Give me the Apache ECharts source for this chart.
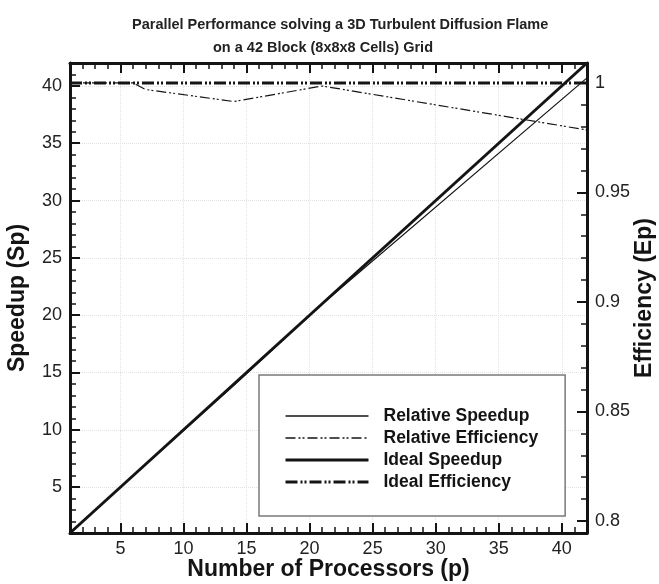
<!DOCTYPE html>
<html>
<head>
<meta charset="utf-8">
<script src="https://cdn.jsdelivr.net/npm/echarts@6/dist/echarts.min.js"></script>
<style>
  html, body { margin: 0; padding: 0; background: #fff; }
  #chart { width: 659px; height: 584px; }
</style>
</head>
<body>
<div id="chart"></div>
<script>
// data
var processors = [1, 2, 3, 6, 7, 14, 21, 42];
var relSpeedup = [1, 2, 3, 6, 6.98, 13.88, 20.97, 40.7];
var relEfficiency = [1, 1, 1, 1, 0.997, 0.9915, 0.9986, 0.9785];
var idealP = [1, 42];
var idealSpeedup = [1, 42];
var idealEfficiency = [1, 1];

// tick labels
var xTicks = [5, 10, 15, 20, 25, 30, 35, 40];
var speedupTicks = [5, 10, 15, 20, 25, 30, 35, 40];
var effTicks = [0.8, 0.85, 0.9, 0.95, 1];

var font = '"Liberation Sans", Arial, Helvetica, sans-serif';
var ink = '#141414';

function pairs(xs, ys) {
  return xs.map(function (x, i) { return [x, ys[i]]; });
}

// minor ticks every 1 (x, speedup) and every 0.01 (efficiency)
var minorInt = [];
for (var i = 2; i <= 41; i++) minorInt.push(i);
var minorEff = [];
for (var j = 80; j <= 100; j++) minorEff.push(j / 100);

var gridLine = { show: true, lineStyle: { color: '#e2e2e2', type: 'dotted', width: 1 } };
var labelStyle = { fontFamily: font, fontSize: 18, color: '#222', margin: 8 };
var nameStyle = { fontFamily: font, fontSize: 23, fontWeight: 'bold', color: ink };

function majorAxis(extra) {
  return Object.assign({
    type: 'value',
    nameMoveOverlap: false,
    axisLine: { show: true, onZero: false, lineStyle: { color: ink, width: 3 } },
    axisTick: { show: true, inside: true, length: 10, lineStyle: { color: ink, width: 2 } },
    axisLabel: { show: false },
    splitLine: { show: false },
    minorTick: { show: false }
  }, extra);
}
function minorAxis(extra) {
  return Object.assign({
    type: 'value',
    axisLine: { show: false, onZero: false },
    axisTick: { show: true, inside: true, length: 6, lineStyle: { color: ink, width: 1.5 } },
    axisLabel: { show: false },
    splitLine: { show: false }
  }, extra);
}

var DASHDOTDOT = [12, 3, 2, 2, 2, 3];
var DASHDOTDOT_THIN = [10, 3, 2, 2, 2, 3];

var myChart = echarts.init(document.getElementById('chart'));

var option = {
  backgroundColor: '#fff',
  animation: false,
  title: [
    {
      text: 'Parallel Performance solving a 3D Turbulent Diffusion Flame',
      left: 127, top: 12,
      textStyle: { fontFamily: font, fontSize: 14.5, fontWeight: 'bold', color: '#222' }
    },
    {
      text: 'on a 42 Block (8x8x8 Cells) Grid',
      left: 208, top: 35,
      textStyle: { fontFamily: font, fontSize: 14.5, fontWeight: 'bold', color: '#222' }
    }
  ],
  grid: { left: 70, right: 72, top: 63, bottom: 51, containLabel: false, outerBoundsMode: 'none' },
  legend: {
    orient: 'vertical',
    left: 259, top: 375,
    padding: [31, 27, 24, 25],
    backgroundColor: '#fff',
    borderColor: '#7a7a7a',
    borderWidth: 1.5,
    itemWidth: 83,
    itemHeight: 14,
    itemGap: 2,
    itemStyle: { opacity: 0 },
    textStyle: { fontFamily: font, fontSize: 17.5, lineHeight: 20, fontWeight: 'bold', color: ink, padding: [0, 0, 0, 10] },
    data: [
      { name: 'Relative Speedup', itemStyle: { opacity: 0 }, lineStyle: { width: 1.4, type: 'solid', color: ink } },
      { name: 'Relative Efficiency', itemStyle: { opacity: 0 }, lineStyle: { width: 1.4, type: DASHDOTDOT_THIN, color: ink } },
      { name: 'Ideal Speedup', itemStyle: { opacity: 0 }, lineStyle: { width: 3, type: 'solid', color: ink } },
      { name: 'Ideal Efficiency', itemStyle: { opacity: 0 }, lineStyle: { width: 3, type: DASHDOTDOT, color: ink } }
    ]
  },
  xAxis: [
    majorAxis({
      position: 'bottom', min: 1, max: 42,
      name: 'Number of Processors (p)', nameLocation: 'middle', nameGap: 25, nameTextStyle: nameStyle,
      axisTick: { show: true, inside: true, length: 10, customValues: xTicks, lineStyle: { color: ink, width: 2 } },
      axisLabel: Object.assign({ show: true, customValues: xTicks }, labelStyle, { margin: 7 }),
      splitLine: gridLine
    }),
    minorAxis({ position: 'bottom', min: 1, max: 42,
      axisTick: { show: true, inside: true, length: 6, customValues: minorInt, lineStyle: { color: ink, width: 1.5 } } }),
    majorAxis({ position: 'top', min: 1, max: 42,
      axisTick: { show: true, inside: true, length: 10, customValues: xTicks, lineStyle: { color: ink, width: 2 } } }),
    minorAxis({ position: 'top', min: 1, max: 42,
      axisTick: { show: true, inside: true, length: 6, customValues: minorInt, lineStyle: { color: ink, width: 1.5 } } })
  ],
  yAxis: [
    majorAxis({
      position: 'left', min: 1, max: 42,
      name: 'Speedup (Sp)', nameLocation: 'middle', nameGap: 41, nameRotate: 90, nameTextStyle: nameStyle,
      axisTick: { show: true, inside: true, length: 10, customValues: speedupTicks, lineStyle: { color: ink, width: 2 } },
      axisLabel: Object.assign({ show: true, customValues: speedupTicks }, labelStyle),
      splitLine: gridLine
    }),
    minorAxis({ position: 'left', min: 1, max: 42,
      axisTick: { show: true, inside: true, length: 6, customValues: minorInt, lineStyle: { color: ink, width: 1.5 } } }),
    majorAxis({
      position: 'right', min: 0.7945, max: 1.0091,
      name: 'Efficiency (Ep)', nameLocation: 'middle', nameGap: 46, nameRotate: 90, nameTextStyle: nameStyle,
      axisTick: { show: true, inside: true, length: 10, customValues: effTicks, lineStyle: { color: ink, width: 2 } },
      axisLabel: Object.assign({ show: true, customValues: effTicks }, labelStyle)
    }),
    minorAxis({ position: 'right', min: 0.7945, max: 1.0091,
      axisTick: { show: true, inside: true, length: 6, customValues: minorEff, lineStyle: { color: ink, width: 1.5 } } })
  ],
  series: [
    {
      name: 'Relative Speedup', type: 'line', xAxisIndex: 0, yAxisIndex: 0,
      symbol: 'none', z: 3, itemStyle: { color: ink },
      lineStyle: { color: ink, width: 1.2, type: 'solid' },
      data: pairs(processors, relSpeedup)
    },
    {
      name: 'Relative Efficiency', type: 'line', xAxisIndex: 0, yAxisIndex: 2,
      symbol: 'none', z: 3, itemStyle: { color: ink },
      lineStyle: { color: ink, width: 1.2, type: DASHDOTDOT_THIN },
      data: pairs(processors, relEfficiency)
    },
    {
      name: 'Ideal Speedup', type: 'line', xAxisIndex: 0, yAxisIndex: 0,
      symbol: 'none', z: 4, itemStyle: { color: ink },
      lineStyle: { color: ink, width: 3, type: 'solid' },
      data: pairs(idealP, idealSpeedup)
    },
    {
      name: 'Ideal Efficiency', type: 'line', xAxisIndex: 0, yAxisIndex: 2,
      symbol: 'none', z: 4, itemStyle: { color: ink },
      lineStyle: { color: ink, width: 3, type: DASHDOTDOT },
      data: pairs(idealP, idealEfficiency)
    }
  ]
};

myChart.setOption(option);
</script>
</body>
</html>
